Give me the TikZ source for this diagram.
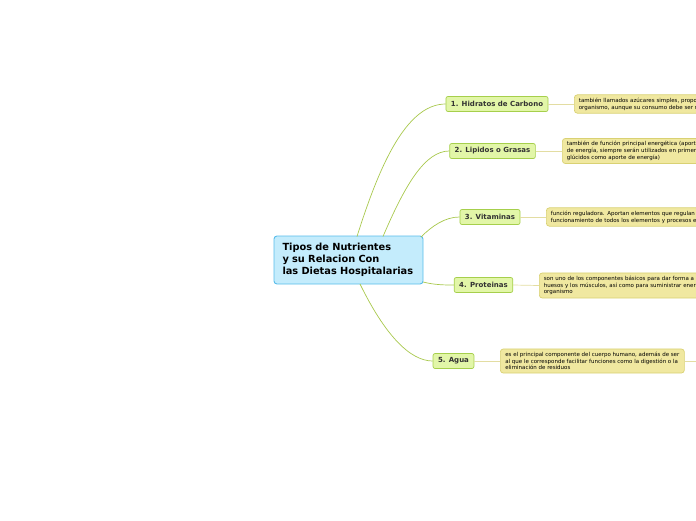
\documentclass[tikz,border=0pt]{standalone}
\usepackage{fontspec}
\setmainfont{DejaVu Sans}
\begin{document}
\begin{tikzpicture}[x=1pt,y=-1pt,
  centerbox/.style={draw=cbord, fill=cfill, line width=0.9pt, rounded corners=3pt,
    align=left, text width=132pt, inner xsep=8.5pt, inner ysep=5pt, minimum height=48pt,
    font=\fontsize{9.8}{12}\selectfont\bfseries, text=black},
  branchbox/.style={draw=bbord, fill=bfill, line width=0.7pt, rounded corners=2pt,
    inner xsep=5pt, inner ysep=0pt, minimum height=15pt,
    font=\fontsize{7}{8}\selectfont\bfseries, text=black!80},
  detailbox/.style={draw=dbord, fill=dfill, line width=0.7pt, rounded corners=3pt,
    align=left, inner xsep=4.5pt, inner ysep=3pt, anchor=west,
    font=\fontsize{5.5}{6.8}\selectfont, text=black},
  curve/.style={draw=lcol, line width=0.7pt},
  dline/.style={draw=dlcol, line width=0.7pt}
]
\definecolor{cfill}{HTML}{C4ECFC}
\definecolor{cbord}{HTML}{58BCEA}
\definecolor{bfill}{HTML}{E2F6A8}
\definecolor{bbord}{HTML}{A6CF4C}
\definecolor{dfill}{HTML}{F0E8A0}
\definecolor{dbord}{HTML}{D9D173}
\definecolor{lcol}{HTML}{A8C84C}
\definecolor{dlcol}{HTML}{E3DDA2}
\useasboundingbox (0,0) rectangle (696,520);
\clip (0,0) rectangle (696,520);

\coordinate (e5) at (700,361);

\node[centerbox] (c) at (348.5,260) {Tipos de Nutrientes\\y su Relacion Con\\las Dietas Hospitalarias};

\node[branchbox] (b1) at (497,104) {1. Hidratos de Carbono};
\node[branchbox] (b2) at (492.5,151) {2. Lipidos o Grasas};
\node[branchbox] (b3) at (490,217) {3. Vitaminas};
\node[branchbox] (b4) at (483.5,285) {4. Proteinas};
\node[branchbox] (b5) at (453.5,361) {5. Agua};

\node[detailbox, text width=210pt] (d1) at (574,104) {también llamados azúcares simples, propo\\organismo, aunque su consumo debe ser m};
\node[detailbox, text width=210pt] (d2) at (562,151) {también de función principal energética (aporta\\de energía, siempre serán utilizados en primer\\glúcidos como aporte de energía)};
\node[detailbox, text width=210pt] (d3) at (546,217) {función reguladora. Aportan elementos que regulan e\\funcionamiento de todos los elementos y procesos e};
\node[detailbox, text width=210pt] (d4) at (539,285.5) {son uno de los componentes básicos para dar forma a l\\huesos y los músculos, así como para suministrar ener\\organismo};
\node[detailbox, minimum width=184pt] (d5) at (500,361) {es el principal componente del cuerpo humano, además de ser\\al que le corresponde facilitar funciones como la digestión o la\\eliminación de residuos};

\path[dline] (b1.east) -- (d1.west);
\path[dline] (b2.east) -- (d2.west);
\path[dline] (b3.east) -- (d3.west);
\path[dline] (b4.east) -- (d4.west);
\path[dline] (b5.east) -- (d5.west);
\path[dline] (d5.east) -- (e5);

\path[curve] (357,236.5) .. controls (378,170) and (405,104) .. (b1.west);
\path[curve] (383,236.5) .. controls (405,185) and (425,151) .. (b2.west);
\path[curve] (421,237) .. controls (432,226) and (445,217) .. (b3.west);
\path[curve] (423,282) .. controls (435,285) and (445,285) .. (b4.west);
\path[curve] (360,284) .. controls (385,335) and (410,361) .. (b5.west);
\end{tikzpicture}
\end{document}
